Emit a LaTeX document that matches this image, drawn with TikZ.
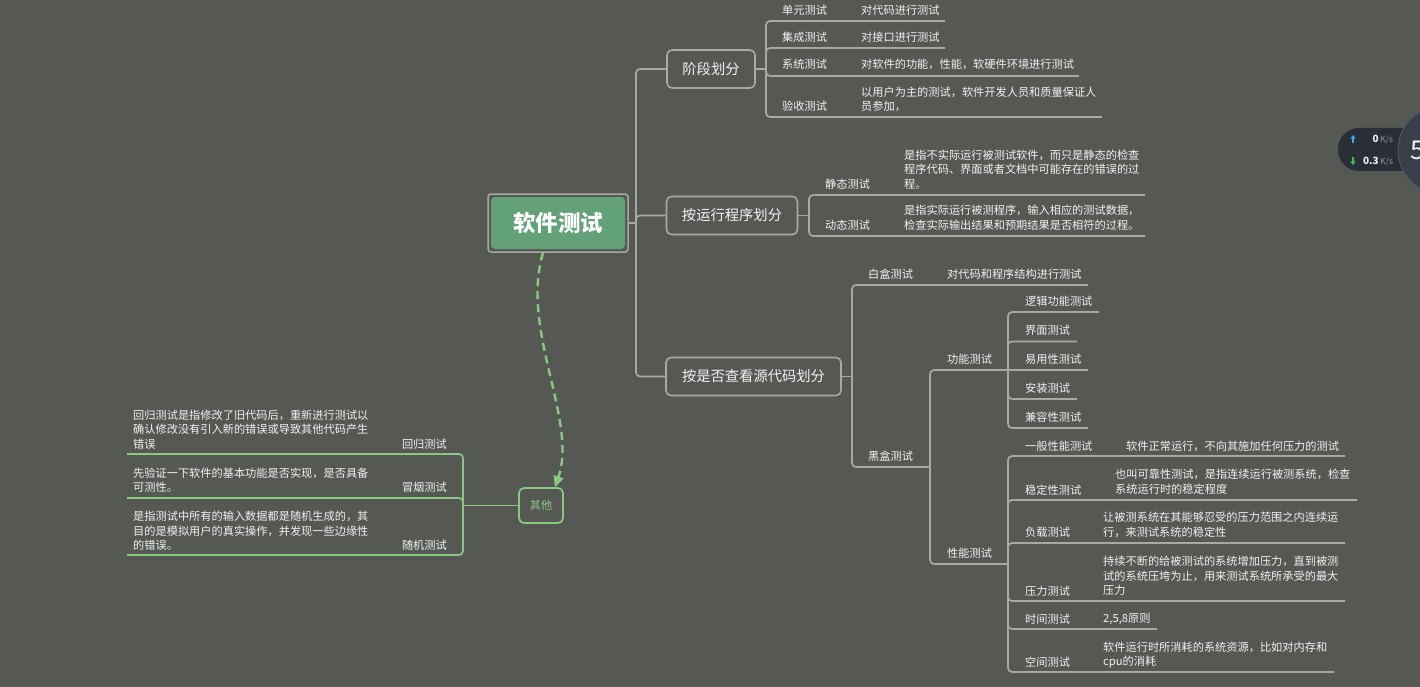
\documentclass[tikz,border=0pt]{standalone}
\usepackage{fontspec}
\setmainfont{Noto Sans CJK SC}
\usetikzlibrary{arrows.meta}
\definecolor{bgc}{RGB}{86,88,84}
\definecolor{linec}{RGB}{168,168,166}
\definecolor{txtc}{RGB}{242,242,242}
\definecolor{rootg}{RGB}{99,161,121}
\definecolor{greenl}{RGB}{140,200,132}
\definecolor{pillc}{RGB}{42,46,54}
\definecolor{circc}{RGB}{58,62,74}
\definecolor{circe}{RGB}{80,85,98}
\definecolor{upc}{RGB}{64,170,240}
\definecolor{downc}{RGB}{60,190,80}
\definecolor{ksc}{RGB}{150,152,158}
\tikzset{
  conn/.style={draw=linec, line width=1.7, rounded corners=4},
  gconn/.style={draw=greenl, line width=1.7, rounded corners=4},
  lvone/.style={draw=linec, line width=1.6, rounded corners=5, minimum height=38, text=txtc, font=\fontsize{14.3}{17}\selectfont, inner sep=0},
  sm/.style={text=txtc, font=\fontsize{11.2}{14.6}\selectfont, inner sep=0, anchor=west, align=left},
  smr/.style={sm, anchor=east, align=right},
}
\begin{document}
\begin{tikzpicture}[x=1pt,y=-1pt]
\fill[bgc] (0,0) rectangle (1420,687);
\useasboundingbox (0,0) rectangle (1420,687);

% root
\node[draw=linec, line width=1.5, rounded corners=3, minimum width=140, minimum height=58, inner sep=0] (rootb) at (558,223) {};
\node[fill=rootg, rounded corners=4, minimum width=134, minimum height=52, inner sep=0, text=white, font=\bfseries\fontsize{22.5}{26}\selectfont] (root) at (558,223) {软件测试};

% level one
\node[lvone, minimum width=88] (stage) at (711,69) {阶段划分};
\node[lvone, minimum width=131] (run) at (732,215.5) {按运行程序划分};
\node[lvone, minimum width=175] (src) at (753.5,376.5) {按是否查看源代码划分};

\coordinate (tr) at (636,223);
\draw[conn] (rootb.east) -- (tr);
\draw[conn] (tr) |- (stage.west);
\draw[conn] (tr) |- (run.west);
\draw[conn] (tr) |- (src.west);

% stage children
\coordinate (sj) at (766,69);
\draw[conn] (stage.east) -- (sj);
\coordinate (s1) at (945,21);
\coordinate (s2) at (945,48);
\coordinate (s3) at (1079,76);
\coordinate (s4) at (1102,117);
\draw[conn] (sj) |- (s1);
\draw[conn] (sj) |- (s2);
\draw[conn] (sj) |- (s3);
\draw[conn] (sj) |- (s4);
\node[sm] (s1l) at (782,10) {单元测试};
\node[sm] (s1d) at (861,10) {对代码进行测试};
\node[sm] (s2l) at (782,37) {集成测试};
\node[sm] (s2d) at (861,37) {对接口进行测试};
\node[sm] (s3l) at (782,64) {系统测试};
\node[sm] (s3d) at (861,64) {对软件的功能，性能，软硬件环境进行测试};
\node[sm] (s4l) at (782,106) {验收测试};
\node[sm] (s4d) at (861,99.5) {以用户为主的测试，软件开发人员和质量保证人\\员参加，};

% run children
\coordinate (rj) at (809,215.5);
\draw[conn] (run.east) -- (rj);
\coordinate (r1) at (1145,195);
\coordinate (r2) at (1145,236);
\draw[conn] (rj) |- (r1);
\draw[conn] (rj) |- (r2);
\node[sm] (r1l) at (825,184) {静态测试};
\node[sm] (r1d) at (904,169.5) {是指不实际运行被测试软件，而只是静态的检查\\程序代码、界面或者文档中可能存在的错误的过\\程。};
\node[sm] (r2l) at (825,225) {动态测试};
\node[sm] (r2d) at (904,218) {是指实际运行被测程序，输入相应的测试数据，\\检查实际输出结果和预期结果是否相符的过程。};

% source children
\coordinate (cj) at (852,376.5);
\draw[conn] (src.east) -- (cj);
\coordinate (c1) at (1088,285);
\coordinate (bj) at (930,467);
\draw[conn] (cj) |- (c1);
\draw[conn] (cj) |- (bj);
\node[sm] (c1l) at (868,274) {白盒测试};
\node[sm] (c1d) at (947,274) {对代码和程序结构进行测试};
\node[sm] (c2l) at (868,456) {黑盒测试};

% black box
\coordinate (fj) at (1008,370);
\coordinate (pj) at (1008,564);
\draw[conn] (bj) |- (fj);
\draw[conn] (bj) |- (pj);
\node[sm] (fl) at (947,359) {功能测试};
\node[sm] (pl) at (947,553) {性能测试};

% functional
\coordinate (f1) at (1099,312);
\coordinate (f2) at (1077,341.5);
\coordinate (f3) at (1088,370);
\coordinate (f4) at (1077,399);
\coordinate (f5) at (1088,428);
\draw[conn] (fj) |- (f1);
\draw[conn] (fj) |- (f2);
\draw[conn] (fj) -- (f3);
\draw[conn] (fj) |- (f4);
\draw[conn] (fj) |- (f5);
\node[sm] (f1l) at (1025,301) {逻辑功能测试};
\node[sm] (f2l) at (1025,330) {界面测试};
\node[sm] (f3l) at (1025,359) {易用性测试};
\node[sm] (f4l) at (1025,388) {安装测试};
\node[sm] (f5l) at (1025,417) {兼容性测试};

% performance
\coordinate (p1) at (1345,456);
\coordinate (p2) at (1357,500);
\coordinate (p3) at (1345,543);
\coordinate (p4) at (1345,601);
\coordinate (p5) at (1157,629);
\coordinate (p6) at (1334,672);
\draw[conn] (pj) |- (p1);
\draw[conn] (pj) |- (p2);
\draw[conn] (pj) |- (p3);
\draw[conn] (pj) |- (p4);
\draw[conn] (pj) |- (p5);
\draw[conn] (pj) |- (p6);
\node[sm] (p1l) at (1025,446) {一般性能测试};
\node[sm] (p1d) at (1126,446) {软件正常运行，不向其施加任何压力的测试};
\node[sm] (p2l) at (1025,490) {稳定性测试};
\node[sm] (p2d) at (1115,482) {也叫可靠性测试，是指连续运行被测系统，检查\\系统运行时的稳定程度};
\node[sm] (p3l) at (1025,532) {负载测试};
\node[sm] (p3d) at (1103,525) {让被测系统在其能够忍受的压力范围之内连续运\\行，来测试系统的稳定性};
\node[sm] (p4l) at (1025,591) {压力测试};
\node[sm] (p4d) at (1103,576) {持续不断的给被测试的系统增加压力，直到被测\\试的系统压垮为止，用来测试系统所承受的最大\\压力};
\node[sm] (p5l) at (1025,619) {时间测试};
\node[sm] (p5d) at (1103,619) {2,5,8原则};
\node[sm] (p6l) at (1025,662) {空间测试};
\node[sm] (p6d) at (1103,655) {软件运行时所消耗的系统资源，比如对内存和\\cpu的消耗};

% other
\node[draw=greenl, line width=1.7, rounded corners=5, minimum width=44, minimum height=35, inner sep=0, text=greenl, font=\fontsize{11.2}{14}\selectfont] (other) at (541,505.5) {其他};
\draw[greenl, line width=2.4, dash pattern=on 8pt off 5pt, -{Triangle[length=11pt,width=10pt]}]
  ([xshift=-15pt]rootb.south) .. controls (520,330) and (578,420) .. ([xshift=14pt]other.north);

\coordinate (oj) at (463,505.5);
\draw[gconn] (other.west) -- (oj);
\coordinate (o1) at (127,454);
\coordinate (o2) at (127,498);
\coordinate (o3) at (127,555);
\draw[gconn] (oj) |- (o1);
\draw[gconn] (oj) |- (o2);
\draw[gconn] (oj) |- (o3);
\node[smr] (o1l) at (447,444) {回归测试};
\node[sm] (o1d) at (133,429.5) {回归测试是指修改了旧代码后，重新进行测试以\\确认修改没有引入新的错误或导致其他代码产生\\错误};
\node[smr] (o2l) at (447,487) {冒烟测试};
\node[sm] (o2d) at (133,480) {先验证一下软件的基本功能是否实现，是否具备\\可测性。};
\node[smr] (o3l) at (447,545) {随机测试};
\node[sm] (o3d) at (133,531) {是指测试中所有的输入数据都是随机生成的，其\\目的是模拟用户的真实操作，并发现一些边缘性\\的错误。};

% speed widget
\fill[pillc, rounded corners=21] (1338,128) rectangle (1440,171);
\filldraw[fill=circc, draw=circe, line width=1] (1442,150) circle (44);
\node[text=txtc, font=\fontsize{26}{30}\selectfont, inner sep=0] (wfive) at (1418,150) {5};
\draw[upc, line width=1.3, -{Triangle[length=3.5pt,width=5pt]}] (1353,143) -- (1353,135);
\draw[downc, line width=1.3, -{Triangle[length=3.5pt,width=5pt]}] (1353,157) -- (1353,165);
\node[text=txtc, font=\bfseries\fontsize{10}{12}\selectfont, inner sep=0, anchor=east] (wup) at (1379,139) {0};
\node[text=ksc, font=\fontsize{8.5}{10}\selectfont, inner sep=0, anchor=west] (wupk) at (1380,140) {K/s};
\node[text=txtc, font=\bfseries\fontsize{10}{12}\selectfont, inner sep=0, anchor=east] (wdn) at (1379,161) {0.3};
\node[text=ksc, font=\fontsize{8.5}{10}\selectfont, inner sep=0, anchor=west] (wdnk) at (1380,162) {K/s};
\end{tikzpicture}
\end{document}
